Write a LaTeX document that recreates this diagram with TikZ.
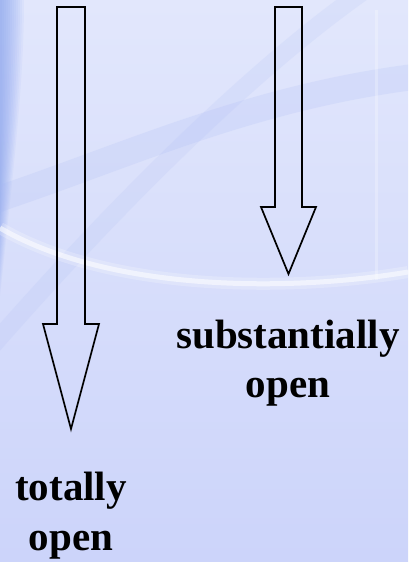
\documentclass[tikz,border=0pt]{standalone}
\usepackage{fontspec}
\setmainfont{Liberation Serif}
\usepackage{tikz}
\usetikzlibrary{positioning}

\definecolor{bgtop}{RGB}{226,231,252}
\definecolor{bgbot}{RGB}{204,212,250}
\definecolor{edgeblue}{RGB}{125,155,238}
\definecolor{bandblue}{RGB}{165,182,243}

\tikzset{
  hollowarrow/.style={draw=black, line width=1.7pt, line join=miter},
  opentext/.style={font=\fontsize{41}{49}\selectfont\bfseries, inner sep=0pt, anchor=base}
}

\begin{document}
\begin{tikzpicture}[x=1pt,y=-1pt]
\useasboundingbox (0,0) rectangle (408,562);

% background
\begin{scope}
\clip (0,0) rectangle (408,562);
\shade[top color=bgtop, bottom color=bgbot] (0,0) rectangle (408,562);
\foreach \w in {2,4,...,24}
  \fill[edgeblue, opacity=0.07] (0,0) -- (\w,0) .. controls (\w,80) and (0.6*\w,160) .. (0,200+4*\w) -- cycle;
\draw[bandblue, line width=26pt, opacity=0.18] (-20,205) .. controls (120,160) and (250,95) .. (430,75);
\draw[bandblue, line width=18pt, opacity=0.14] (-20,360) .. controls (110,210) and (260,60) .. (380,-20);
\draw[white, line width=12pt, opacity=0.22] (0,228) .. controls (110,292) and (290,292) .. (408,272);
\draw[white, line width=5pt, opacity=0.55] (0,228) .. controls (110,292) and (290,292) .. (408,272);
\draw[white, line width=3pt, opacity=0.25] (376,10) -- (376,280);
\end{scope}

% arrows
\draw[hollowarrow] (57,7) -- (85,7) -- (85,324) -- (99,324) -- (71,429) -- (43,324) -- (57,324) -- cycle;
\draw[hollowarrow] (275,7) -- (302,7) -- (302,207) -- (316,207) -- (288.5,274) -- (261,207) -- (275,207) -- cycle;

% labels
\node[opentext] (totally) at (71,500) {totally};
\node[opentext] (totallyopen) at (71,550) {open};
\node[opentext] (subst) at (288,348) {substantially};
\node[opentext] (substopen) at (288,397) {open};

\end{tikzpicture}
\end{document}
